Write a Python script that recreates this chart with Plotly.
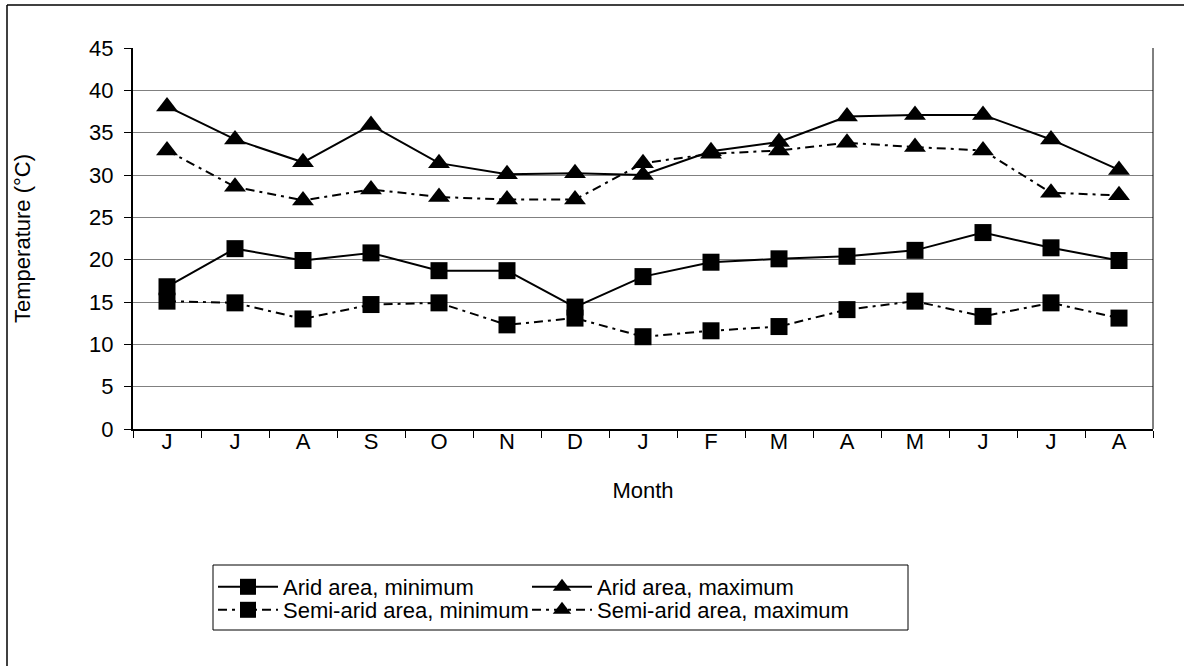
import plotly.graph_objects as go

months = ["J", "J", "A", "S", "O", "N", "D", "J", "F", "M", "A", "M", "J", "J", "A"]
arid_min = [16.8, 21.3, 19.9, 20.8, 18.7, 18.7, 14.4, 18.0, 19.7, 20.1, 20.4, 21.1, 23.2, 21.4, 19.9]
arid_max = [38.1, 34.2, 31.5, 35.9, 31.4, 30.1, 30.2, 30.0, 32.8, 33.9, 36.9, 37.1, 37.1, 34.2, 30.6]
semi_min = [15.1, 14.9, 13.0, 14.7, 14.9, 12.3, 13.1, 10.9, 11.6, 12.1, 14.1, 15.1, 13.3, 14.9, 13.1]
semi_max = [32.9, 28.6, 27.0, 28.3, 27.4, 27.1, 27.1, 31.4, 32.5, 32.9, 33.8, 33.3, 32.9, 27.9, 27.6]

x = list(range(len(months)))

W, H = 1184, 666
L, R, T, B = 133, 31, 48, 237
PW, PH = W - L - R, H - T - B
FS = 22


def px_x(p):
    return (p - L) / PW


def px_y(p):
    return (H - B - p) / PH


DASHDOT = "9px,5px,3px,5px"

fig = go.Figure()
series = [
    ("Arid area, minimum", arid_min, "solid", "square", 17, "legend"),
    ("Arid area, maximum", arid_max, "solid", "triangle-up", 19, "legend2"),
    ("Semi-arid area, minimum", semi_min, DASHDOT, "square", 17, "legend3"),
    ("Semi-arid area, maximum", semi_max, DASHDOT, "triangle-up", 19, "legend4"),
]
for name, vals, dash, sym, size, lg in series:
    fig.add_trace(go.Scatter(
        x=x, y=vals, name=name, mode="lines+markers", legend=lg,
        line=dict(color="black", width=2, dash=dash),
        marker=dict(symbol=sym, size=size, color="black", line=dict(width=0)),
    ))

legend_common = dict(
    orientation="v", xanchor="left", yanchor="top",
    borderwidth=0, bgcolor="rgba(0,0,0,0)", itemwidth=60,
    font=dict(size=FS, color="black"), tracegroupgap=0,
)
COL1, COL2 = 213, 527
ROW1, ROW2 = 566, 589

fig.update_layout(
    width=W, height=H,
    margin=dict(l=L, r=R, t=T, b=B, autoexpand=False),
    paper_bgcolor="white", plot_bgcolor="white",
    font=dict(family="Liberation Sans, Arial, sans-serif", size=FS, color="black"),
    showlegend=True,
    legend=dict(x=px_x(COL1), y=px_y(ROW1), **legend_common),
    legend2=dict(x=px_x(COL2), y=px_y(ROW1), **legend_common),
    legend3=dict(x=px_x(COL1), y=px_y(ROW2), **legend_common),
    legend4=dict(x=px_x(COL2), y=px_y(ROW2), **legend_common),
    xaxis=dict(
        range=[-0.5, len(months) - 0.5], tickmode="array", tickvals=x, ticktext=months,
        ticks="", showgrid=False, zeroline=False,
        showline=True, linecolor="black", linewidth=2,
        minor=dict(tickmode="array", tickvals=[i - 0.5 for i in range(len(months) + 1)],
                   ticks="outside", ticklen=7, tickcolor="black", tickwidth=1, showgrid=False),
        title=dict(text="Month", standoff=29, font=dict(size=FS, color="black")),
        tickfont=dict(size=FS, color="black"),
        automargin=False, ticklabelstandoff=-8,
    ),
    yaxis=dict(
        range=[0, 45], tickmode="linear", tick0=0, dtick=5,
        ticks="outside", ticklen=7, tickcolor="black", tickwidth=1,
        showgrid=True, gridcolor="#808080", gridwidth=1, zeroline=False,
        showline=True, linecolor="black", linewidth=2,
        title=dict(text="Temperature (°C)", standoff=52, font=dict(size=FS, color="black")),
        tickfont=dict(size=FS, color="black"),
        automargin=False, ticklabelstandoff=6,
    ),
    shapes=[
        dict(type="line", xref="paper", yref="paper", x0=1, x1=1, y0=0, y1=1,
             line=dict(color="black", width=1)),
        dict(type="line", xref="paper", yref="paper", x0=px_x(7), x1=px_x(1190),
             y0=px_y(5), y1=px_y(5), line=dict(color="black", width=1.5)),
        dict(type="line", xref="paper", yref="paper", x0=px_x(7), x1=px_x(7),
             y0=px_y(5), y1=px_y(680), line=dict(color="black", width=1.5)),
        dict(type="rect", xref="paper", yref="paper", x0=px_x(213), x1=px_x(908),
             y0=px_y(565), y1=px_y(630), line=dict(color="black", width=1)),
    ],
)

fig.write_html("out.html")
